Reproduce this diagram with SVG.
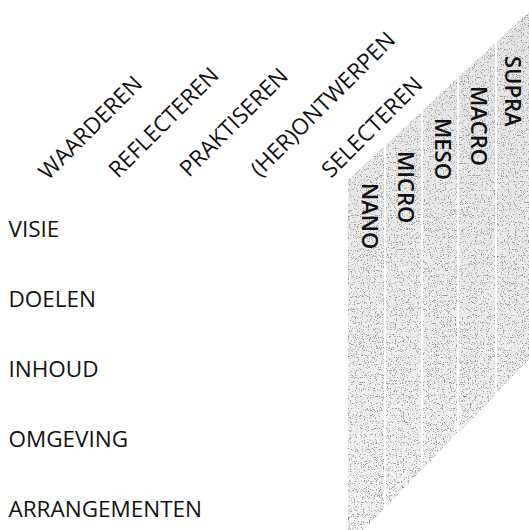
<svg xmlns="http://www.w3.org/2000/svg" width="529" height="530" viewBox="0 0 529 530">
  <style>
    .lbl { font-family: "Open Sans", "Noto Sans", "DejaVu Sans", sans-serif; font-size: 22.5px; fill: #111; }
    .lvl { font-family: "Open Sans", "Noto Sans", "DejaVu Sans", sans-serif; font-size: 22px; font-weight: 600; fill: #111; }
    .bandmask { fill: #000; }
  </style>
  <defs>
    <!-- grainy dot screen used to shade the level bands -->
    <filter id="grain" x="340" y="0" width="189" height="530" filterUnits="userSpaceOnUse">
      <feTurbulence type="fractalNoise" baseFrequency="0.85" numOctaves="2" seed="11" result="noise"/>
      <feColorMatrix in="noise" type="matrix"
        values="0 0 0 0 0.33  0 0 0 0 0.33  0 0 0 0 0.33  8 0 0 0 -4.6" result="dots"/>
      <feComposite in="dots" in2="SourceAlpha" operator="in"/>
    </filter>
    <!-- base tone is a little deeper towards the upper right -->
    <linearGradient id="bandTone" gradientUnits="userSpaceOnUse" x1="529" y1="0" x2="348" y2="530">
      <stop offset="0" stop-color="#e4e4e4"/>
      <stop offset="1" stop-color="#f3f3f3"/>
    </linearGradient>
    <g id="bandShapes">
      <polygon points="348,180 384,146.5 384,509 348,546"/>
      <polygon points="386,144.7 421,112.1 421,470.8 386,506.8"/>
      <polygon points="423,110.3 457,78.6 457,433.7 423,468.7"/>
      <polygon points="459,76.8 495,43.3 495,395.6 459,432.7"/>
      <polygon points="497,41.4 529,11.7 529,359.5 497,392.5"/>
    </g>
  </defs>

  <rect x="0" y="0" width="529" height="530" fill="#ffffff"/>

  <!-- level bands: light base plus dot screen -->
  <g id="bands">
    <use href="#bandShapes" fill="url(#bandTone)"/>
    <use href="#bandShapes" class="bandmask" filter="url(#grain)"/>
  </g>

  <!-- activity headings along the diagonal -->
  <g id="activities">
    <g id="act-waarderen"><text class="lbl" transform="translate(48,181) rotate(-45)">WAARDEREN</text></g>
    <g id="act-reflecteren"><text class="lbl" transform="translate(118,179) rotate(-45)">REFLECTEREN</text></g>
    <g id="act-praktiseren"><text class="lbl" transform="translate(189,178) rotate(-45)">PRAKTISEREN</text></g>
    <g id="act-herontwerpen"><text class="lbl" transform="translate(260,178) rotate(-45)">(HER)ONTWERPEN</text></g>
    <g id="act-selecteren"><text class="lbl" transform="translate(331,179) rotate(-45)">SELECTEREN</text></g>
  </g>

  <!-- curriculum components -->
  <g id="components">
    <g id="comp-visie"><text class="lbl" x="8.5" y="236.7">VISIE</text></g>
    <g id="comp-doelen"><text class="lbl" x="8.5" y="306.7">DOELEN</text></g>
    <g id="comp-inhoud"><text class="lbl" x="8.5" y="376.7">INHOUD</text></g>
    <g id="comp-omgeving"><text class="lbl" x="8.5" y="446.7">OMGEVING</text></g>
    <g id="comp-arrangementen"><text class="lbl" x="8.5" y="516.7">ARRANGEMENTEN</text></g>
  </g>

  <!-- level names, written top to bottom -->
  <g id="levels">
    <g id="lvl-nano"><text class="lvl" transform="translate(362,183) rotate(90)">NANO</text></g>
    <g id="lvl-micro"><text class="lvl" transform="translate(398,151) rotate(90)">MICRO</text></g>
    <g id="lvl-meso"><text class="lvl" transform="translate(435,118) rotate(90)">MESO</text></g>
    <g id="lvl-macro"><text class="lvl" transform="translate(471,86) rotate(90)">MACRO</text></g>
    <g id="lvl-supra"><text class="lvl" transform="translate(505,56) rotate(90)">SUPRA</text></g>
  </g>
</svg>
